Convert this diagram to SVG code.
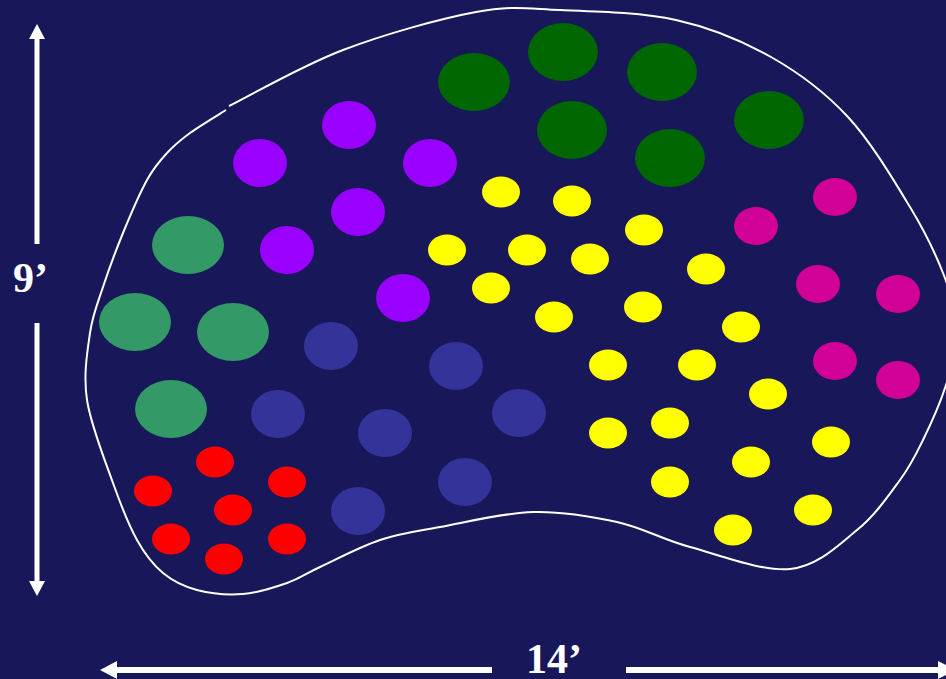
<svg xmlns="http://www.w3.org/2000/svg" width="946" height="679" viewBox="0 0 946 679">
<style>
.dg{fill:#006600}.pu{fill:#9900FF}.mg{fill:#339966}.bl{fill:#333399}.rd{fill:#FF0000}.ye{fill:#FFFF00}.ma{fill:#D10096}
.lbl{font-family:"Liberation Serif","Times New Roman",serif;font-weight:bold;font-size:42px;fill:#FFFFFF}
.ar{fill:#FFFFFF}
</style>
<rect x="0" y="0" width="946" height="679" fill="#171759"/>
<g id="outline">
<path d="M229,106 C248,96.7 301.8,65.7 343,50 C384.2,34.3 439.8,18.7 476,12 C512.2,5.3 526.7,8.7 560,10 C593.3,11.3 640.8,12.2 676,20 C711.2,27.8 742.3,40.8 771,57 C799.7,73.2 824.8,92 848,117 C871.2,142 894.2,181 910,207 C925.8,233 935,252.5 943,273 C951,293.5 957.5,311.3 958,330 C958.5,348.7 951.8,366.7 946,385 C940.2,403.3 930.7,424.2 923,440 C915.3,455.8 911,465 900,480 C889,495 875.3,515.2 857,530 C838.7,544.8 817.8,566.2 790,569 C762.2,571.8 718.8,554.8 690,547 C661.2,539.2 643.2,527.8 617,522 C590.8,516.2 562.5,511.2 533,512 C503.5,512.8 465.5,522.3 440,527 C414.5,531.7 400,533.3 380,540 C360,546.7 335.5,559.8 320,567 C304.5,574.2 299.8,578.5 287,583 C274.2,587.5 258,592.8 243,594 C228,595.2 210.3,593.5 197,590 C183.7,586.5 173,581.3 163,573 C153,564.7 145.3,555 137,540 C128.7,525 121.3,506.3 113,483 C104.7,459.7 90.8,425 87,400 C83.2,375 87.3,351.8 90,333 C92.7,314.2 97.5,303.7 103,287 C108.5,270.3 115.7,250.8 123,233 C130.3,215.2 139.7,193.3 147,180 C154.3,166.7 159.8,160.8 167,153 C174.2,145.2 180.2,140.2 190,133 C199.8,125.8 220,113.8 226,110" fill="none" stroke="#FFFFFF" stroke-width="2"/>
</g>
<g id="dark-green">
<ellipse class="dg" cx="474" cy="82" rx="36" ry="29"/>
<ellipse class="dg" cx="563" cy="52" rx="35" ry="29"/>
<ellipse class="dg" cx="662" cy="72" rx="35" ry="29"/>
<ellipse class="dg" cx="572" cy="130" rx="35" ry="29"/>
<ellipse class="dg" cx="670" cy="158" rx="35" ry="29"/>
<ellipse class="dg" cx="769" cy="120" rx="35" ry="29"/>
</g>
<g id="purple">
<ellipse class="pu" cx="349" cy="125" rx="27" ry="24"/>
<ellipse class="pu" cx="260" cy="163" rx="27" ry="24"/>
<ellipse class="pu" cx="430" cy="163" rx="27" ry="24"/>
<ellipse class="pu" cx="358" cy="212" rx="27" ry="24"/>
<ellipse class="pu" cx="287" cy="250" rx="27" ry="24"/>
<ellipse class="pu" cx="403" cy="298" rx="27" ry="24"/>
</g>
<g id="medium-green">
<ellipse class="mg" cx="188" cy="245" rx="36" ry="29"/>
<ellipse class="mg" cx="135" cy="322" rx="36" ry="29"/>
<ellipse class="mg" cx="233" cy="332" rx="36" ry="29"/>
<ellipse class="mg" cx="171" cy="409" rx="36" ry="29"/>
</g>
<g id="blue">
<ellipse class="bl" cx="331" cy="346" rx="27" ry="24"/>
<ellipse class="bl" cx="456" cy="366" rx="27" ry="24"/>
<ellipse class="bl" cx="278" cy="414" rx="27" ry="24"/>
<ellipse class="bl" cx="385" cy="433" rx="27" ry="24"/>
<ellipse class="bl" cx="519" cy="413" rx="27" ry="24"/>
<ellipse class="bl" cx="358" cy="511" rx="27" ry="24"/>
<ellipse class="bl" cx="465" cy="482" rx="27" ry="24"/>
</g>
<g id="red">
<ellipse class="rd" cx="215" cy="462" rx="19" ry="15.5"/>
<ellipse class="rd" cx="153" cy="491" rx="19" ry="15.5"/>
<ellipse class="rd" cx="287" cy="482" rx="19" ry="15.5"/>
<ellipse class="rd" cx="233" cy="510" rx="19" ry="15.5"/>
<ellipse class="rd" cx="171" cy="539" rx="19" ry="15.5"/>
<ellipse class="rd" cx="224" cy="559" rx="19" ry="15.5"/>
<ellipse class="rd" cx="287" cy="539" rx="19" ry="15.5"/>
</g>
<g id="yellow">
<ellipse class="ye" cx="501" cy="192" rx="19" ry="15.5"/>
<ellipse class="ye" cx="572" cy="201" rx="19" ry="15.5"/>
<ellipse class="ye" cx="644" cy="230" rx="19" ry="15.5"/>
<ellipse class="ye" cx="447" cy="250" rx="19" ry="15.5"/>
<ellipse class="ye" cx="527" cy="250" rx="19" ry="15.5"/>
<ellipse class="ye" cx="590" cy="259" rx="19" ry="15.5"/>
<ellipse class="ye" cx="706" cy="269" rx="19" ry="15.5"/>
<ellipse class="ye" cx="491" cy="288" rx="19" ry="15.5"/>
<ellipse class="ye" cx="554" cy="317" rx="19" ry="15.5"/>
<ellipse class="ye" cx="643" cy="307" rx="19" ry="15.5"/>
<ellipse class="ye" cx="741" cy="327" rx="19" ry="15.5"/>
<ellipse class="ye" cx="608" cy="365" rx="19" ry="15.5"/>
<ellipse class="ye" cx="697" cy="365" rx="19" ry="15.5"/>
<ellipse class="ye" cx="768" cy="394" rx="19" ry="15.5"/>
<ellipse class="ye" cx="608" cy="433" rx="19" ry="15.5"/>
<ellipse class="ye" cx="670" cy="423" rx="19" ry="15.5"/>
<ellipse class="ye" cx="831" cy="442" rx="19" ry="15.5"/>
<ellipse class="ye" cx="751" cy="462" rx="19" ry="15.5"/>
<ellipse class="ye" cx="670" cy="482" rx="19" ry="15.5"/>
<ellipse class="ye" cx="813" cy="510" rx="19" ry="15.5"/>
<ellipse class="ye" cx="733" cy="530" rx="19" ry="15.5"/>
</g>
<g id="magenta">
<ellipse class="ma" cx="835" cy="197" rx="22" ry="19"/>
<ellipse class="ma" cx="756" cy="226" rx="22" ry="19"/>
<ellipse class="ma" cx="818" cy="284" rx="22" ry="19"/>
<ellipse class="ma" cx="898" cy="294" rx="22" ry="19"/>
<ellipse class="ma" cx="835" cy="361" rx="22" ry="19"/>
<ellipse class="ma" cx="898" cy="380" rx="22" ry="19"/>
</g>
<g id="height-arrow">
<rect class="ar" x="34.5" y="38" width="5" height="206"/>
<polygon class="ar" points="37,24 45,39 29,39"/>
<rect class="ar" x="34.5" y="323" width="5" height="259"/>
<polygon class="ar" points="37,596 45,581 29,581"/>
<text class="lbl" x="13" y="292">9’</text>
</g>
<g id="width-arrow">
<rect class="ar" x="116" y="667" width="376" height="6"/>
<polygon class="ar" points="100,670 117,661 117,679"/>
<rect class="ar" x="626" y="667" width="313" height="6"/>
<polygon class="ar" points="956,670 938,661 938,679"/>
<text class="lbl" x="526" y="673" font-size="41">14’</text>
</g>
</svg>
